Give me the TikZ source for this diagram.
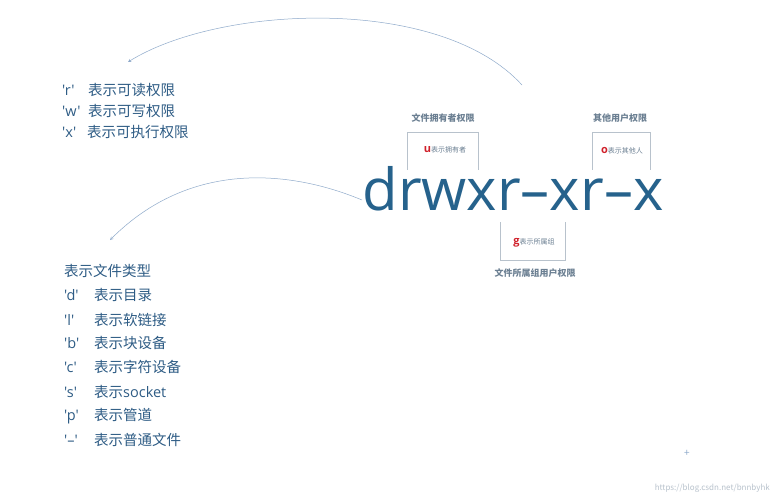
\documentclass[tikz,border=0pt]{standalone}
\usepackage{fontspec}
\setmainfont{Noto Sans CJK SC}
\newfontfamily\lat{Open Sans}
\newcommand{\qa}[1]{\makebox[26pt][l]{\lat #1}}
\newcommand{\qb}[1]{\makebox[30pt][l]{\lat #1}}
\begin{document}
\begin{tikzpicture}[x=1pt,y=-1pt,
  lst/.style={anchor=west,text=blue1,font=\fontsize{14.5}{14.5}\selectfont,inner sep=0},
  lbl/.style={text=gray1,font=\fontsize{9}{9}\selectfont\bfseries,inner sep=0},
  sml/.style={text=gray1,font=\fontsize{7}{7}\selectfont,inner sep=0},
  brk/.style={draw=gray2,line width=0.6pt},
  arr/.style={draw=blue3,line width=0.5pt,->,>=stealth}]
\definecolor{blue1}{HTML}{2E5C85}
\definecolor{blue2}{HTML}{26628C}
\definecolor{blue3}{HTML}{8FAACB}
\definecolor{gray1}{HTML}{6B7F92}
\definecolor{gray2}{HTML}{B8C2CC}
\definecolor{red1}{HTML}{D0202A}
\useasboundingbox[fill=white] (0,0) rectangle (774,500);
\node[text=blue2,font=\lat\fontsize{58}{58}\selectfont,inner sep=0,anchor=base] (main) at (513,211) {drwxr–xr–x};
% lists
\node[lst] (r) at (62,90) {\qa{'r'}表示可读权限};
\node[lst] (w) at (62,111) {\qa{'w'}表示可写权限};
\node[lst] (x) at (62,132) {\makebox[25pt][l]{\lat 'x'}表示可执行权限};
\node[lst] (t0) at (64,271) {表示文件类型};
\node[lst] (t1) at (64,295) {\qb{'d'}表示目录};
\node[lst] (t2) at (64,320) {\qb{'l'}表示软链接};
\node[lst] (t3) at (64,343) {\qb{'b'}表示块设备};
\node[lst] (t4) at (64,367) {\qb{'c'}表示字符设备};
\node[lst] (t5) at (64,392) {\qb{'s'}表示{\lat socket}};
\node[lst] (t6) at (64,416) {\qb{'p'}表示管道};
\node[lst] (t7) at (64,440) {\qb{'–'}表示普通文件};
% brackets
\draw[brk] (407,170) -- (407,132) -- (478,132) -- (478,170);
\draw[brk] (592,170) -- (592,132) -- (650,132) -- (650,170);
\draw[brk] (500,222) -- (500,260) -- (565,260) -- (565,222);
\node[lbl] (l1) at (443,118) {文件拥有者权限};
\node[lbl] (l2) at (620,118) {其他用户权限};
\node[lbl] (l3) at (535,273) {文件所属组用户权限};
\node[sml] (u) at (445,150) {\textcolor{red1}{\lat\fontsize{11}{11}\selectfont\bfseries u}表示拥有者};
\node[sml] (o) at (622,151) {\textcolor{red1}{\lat\fontsize{11}{11}\selectfont\bfseries o}表示其他人};
\node[sml] (g) at (534,243) {\textcolor{red1}{\lat\fontsize{11}{11}\selectfont\bfseries g}表示所属组};
% arrows
\coordinate (a1s) at (522,85);
\coordinate (a1e) at (128,62);
\coordinate (a2s) at (362,200);
\coordinate (a2e) at (110,240);
\draw[arr] (a1s) .. controls (440,-5) and (220,5) .. (a1e);
\draw[arr] (a2s) .. controls (290,170) and (190,160) .. (a2e);
\node[text=blue3,font=\fontsize{10}{10}\selectfont,inner sep=0] (plus) at (687,453) {+};
\node[text=gray2,font=\fontsize{8}{8}\selectfont,inner sep=0,anchor=east] (wm) at (770,488) {https://blog.csdn.net/bnnbyhk};
\end{tikzpicture}
\end{document}
